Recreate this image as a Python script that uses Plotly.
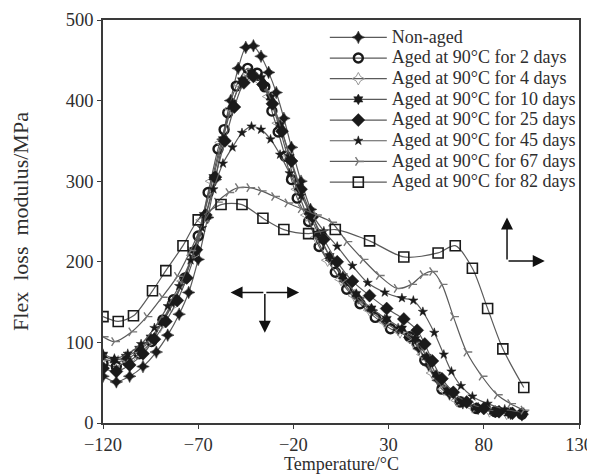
import plotly.graph_objects as go

# ---------------- data ----------------
series_names = [
    "Non-aged",
    "Aged at 90°C for 2 days",
    "Aged at 90°C for 4 days",
    "Aged at 90°C for 10 days",
    "Aged at 90°C for 25 days",
    "Aged at 90°C for 45 days",
    "Aged at 90°C for 67 days",
    "Aged at 90°C for 82 days",
]

x_non_aged = [-120, -113, -106, -99, -92, -86, -80, -75, -70, -65, -61, -57, -53, -49, -45, -41, -37, -33, -29, -25,
              -21, -16, -11, -6, 0, 7, 14, 21, 28, 35, 41, 46, 51, 56, 62, 69, 77, 86, 94, 100]
y_non_aged = [58, 51, 58, 70, 88, 109, 135, 162, 203, 255, 302, 352, 400, 440, 466, 468, 455, 435, 410, 378,
              342, 300, 265, 232, 202, 176, 155, 140, 127, 116, 106, 92, 72, 53, 36, 25, 18, 14, 12, 11]

x_2d = [-120, -113, -107, -101, -94.5, -88.5, -83, -77, -72.7, -70, -64.8, -59.6, -56.4, -54.5, -50, -44, -39, -35,
        -31.3, -28, -24.4, -21, -18, -12, -6.5, 2, 8, 15, 23, 31, 41, 45, 49, 58, 67.5, 76, 86, 100]
y_2d = [74, 70, 76, 86, 101, 128, 153, 180, 212, 232, 286, 340, 364, 385, 418, 440, 434, 417,
        387, 361, 331, 302, 279, 250, 219, 187, 166, 148, 131, 117, 107, 98, 78, 42, 26, 18, 14, 11]

x_4d = [-120, -112, -104, -97, -90, -84, -78, -73, -68, -63, -58, -53, -48, -43, -38, -33, -28, -23, -18, -13,
        -8, -2, 5, 12, 20, 28, 36, 43, 48, 53, 59, 66, 74, 83, 92, 100]
y_4d = [80, 76, 84, 98, 120, 145, 176, 208, 252, 300, 348, 390, 420, 432, 425, 405, 372, 330, 290, 258,
        230, 202, 178, 158, 140, 125, 113, 101, 85, 62, 42, 28, 20, 15, 12, 10]

x_10d = [-120, -114, -108, -101, -95, -89, -83, -77, -72, -67, -62, -57, -52, -47, -42, -37, -32, -27, -22, -17,
         -12, -7, -1, 6, 13, 21, 29, 37, 44, 50, 55, 61, 68, 76, 85, 93, 100]
y_10d = [84, 78, 82, 92, 106, 125, 150, 180, 214, 258, 305, 352, 396, 425, 435, 428, 404, 370, 330, 293,
         262, 235, 207, 182, 160, 142, 129, 117, 104, 82, 60, 40, 27, 19, 14, 12, 11]

x_25d = [-120, -113, -106, -99, -93, -87, -81, -76, -71, -66, -61, -56, -51, -46, -41, -36, -31, -26, -21, -16,
         -10, -4, 3, 11, 20, 29, 38, 45, 49, 53, 58, 64, 71, 80, 88, 95, 100]
y_25d = [68, 64, 72, 86, 104, 126, 152, 180, 215, 258, 305, 350, 392, 422, 430, 420, 396, 362, 325, 290,
         256, 228, 200, 176, 158, 142, 129, 115, 98, 77, 55, 38, 26, 18, 14, 12, 11]

x_45d = [-120, -114, -107, -100, -93, -86, -80, -74, -68, -62, -57, -52, -47, -42, -37, -32, -27, -22, -16, -10,
         -4, 3, 11, 19, 28, 37, 43, 48, 54, 59, 63, 68, 74, 82, 91, 101]
y_45d = [86, 80, 86, 98, 118, 145, 170, 202, 242, 290, 322, 342, 360, 368, 364, 352, 333, 310, 282, 258,
         238, 219, 195, 174, 162, 155, 152, 138, 112, 85, 64, 46, 33, 24, 17, 13]

x_67d = [-120, -114, -105, -97, -89, -81, -74, -67, -60, -54, -49, -43, -37, -30, -23, -16, -8, 0, 8, 16.5,
         25, 34.4, 42, 48, 53, 58, 64, 71, 79, 87, 94, 101]
y_67d = [107, 101, 113, 132, 156, 182, 214, 250, 274, 286, 292, 292, 288, 281, 273, 266, 258, 249, 225, 203,
         183, 167, 172, 184, 188, 172, 132, 88, 58, 35, 24, 16]

x_82d = [-120, -112, -104, -94, -87, -78, -70, -58, -47, -36, -25, -12, 2, 20, 38, 56, 65, 74, 82, 90, 101]
y_82d = [132, 126, 133, 164, 189, 220, 252, 271, 271, 254, 240, 235, 240, 226, 206, 211, 220, 192, 142, 92, 44]

x_ticks = [-120, -70, -20, 30, 80, 130]
y_ticks = [0, 100, 200, 300, 400, 500]

x_title = "Temperature/°C"
y_title = "Flex\u00a0 loss\u00a0 modulus/MPa"

xs = [x_non_aged, x_2d, x_4d, x_10d, x_25d, x_45d, x_67d, x_82d]
ys = [y_non_aged, y_2d, y_4d, y_10d, y_25d, y_45d, y_67d, y_82d]

# ---------------- styles ----------------
LINE_C = "#5a5a5a"
MK_C = "#1a1a1a"
TXT_C = "#2e2e2e"
FONT = "Liberation Serif, Times New Roman, serif"

marker_styles = [
    dict(symbol="star-diamond", size=9, color=MK_C, line=dict(width=0.5, color=MK_C)),
    dict(symbol="circle-open", size=9, color=MK_C, line=dict(width=2.4, color=MK_C)),
    dict(symbol="star-diamond-open", size=9, color="#9a9a9a", line=dict(width=1, color="#9a9a9a")),
    dict(symbol="hexagram", size=8, color=MK_C, line=dict(width=0.5, color=MK_C)),
    dict(symbol="diamond", size=10, color=MK_C, line=dict(width=0.5, color=MK_C)),
    dict(symbol="star", size=7, color=MK_C, line=dict(width=0.5, color=MK_C)),
    dict(symbol="y-right", size=7, color="#777777", line=dict(width=1.4, color="#777777")),
    dict(symbol="square-open", size=10, color=MK_C, line=dict(width=1.6, color=MK_C)),
]

fig = go.Figure()
for name, x, y, ms in zip(series_names, xs, ys, marker_styles):
    fig.add_trace(go.Scatter(
        x=x, y=y, mode="lines+markers",
        name='<span style="font-size:18px">' + name + "</span>",
        line=dict(color=LINE_C, width=1.2, shape="spline", smoothing=0.8),
        marker=ms,
    ))

axis_common = dict(
    showline=True, linecolor="#3a3a3a", linewidth=1.6, mirror=True,
    ticks="outside", ticklen=4, tickwidth=1.4, tickcolor="#3a3a3a",
    showgrid=False, zeroline=False,
    tickfont=dict(family=FONT, size=18.5, color=TXT_C),
)

# the page body adds an 8px offset, so the figure is sized to the visible window
fig.update_layout(
    width=587, height=467,
    margin=dict(l=95, r=16, t=12, b=52, autoexpand=False),
    paper_bgcolor="white", plot_bgcolor="white",
    font=dict(family=FONT, size=18, color=TXT_C),
    xaxis=dict(range=[-120, 130], tickvals=x_ticks, **axis_common),
    yaxis=dict(range=[0, 500], tickvals=y_ticks, **axis_common,
               title=dict(text=y_title, font=dict(family=FONT, size=22, color=TXT_C), standoff=40)),
    legend=dict(x=0.466, y=0.995, xanchor="left", yanchor="top",
                bgcolor="rgba(0,0,0,0)", borderwidth=0, itemwidth=57,
                font=dict(family=FONT, size=13.6, color=TXT_C)),
    showlegend=True,
)

# x-axis title as a paper annotation sitting at the bottom edge like the reference
fig.add_annotation(text=x_title, xref="paper", yref="paper", x=0.5, y=-0.129,
                   xanchor="center", yanchor="bottom", showarrow=False,
                   font=dict(family=FONT, size=18, color=TXT_C), borderpad=0)

# direction arrows (decorative annotations)
arrow_kw = dict(showarrow=True, arrowhead=2, arrowsize=1.6, arrowwidth=1.5, arrowcolor="#111111",
                xref="x", yref="y", axref="x", ayref="y", text="")
for (hx, hy, tx, ty) in [(-53, 162, -35, 162), (-17, 162, -35, 162), (-35, 112, -35, 162),
                         (92.2, 255, 92.2, 201), (112, 201, 92.2, 201)]:
    fig.add_annotation(x=hx, y=hy, ax=tx, ay=ty, **arrow_kw)

fig.write_html("out.html")
